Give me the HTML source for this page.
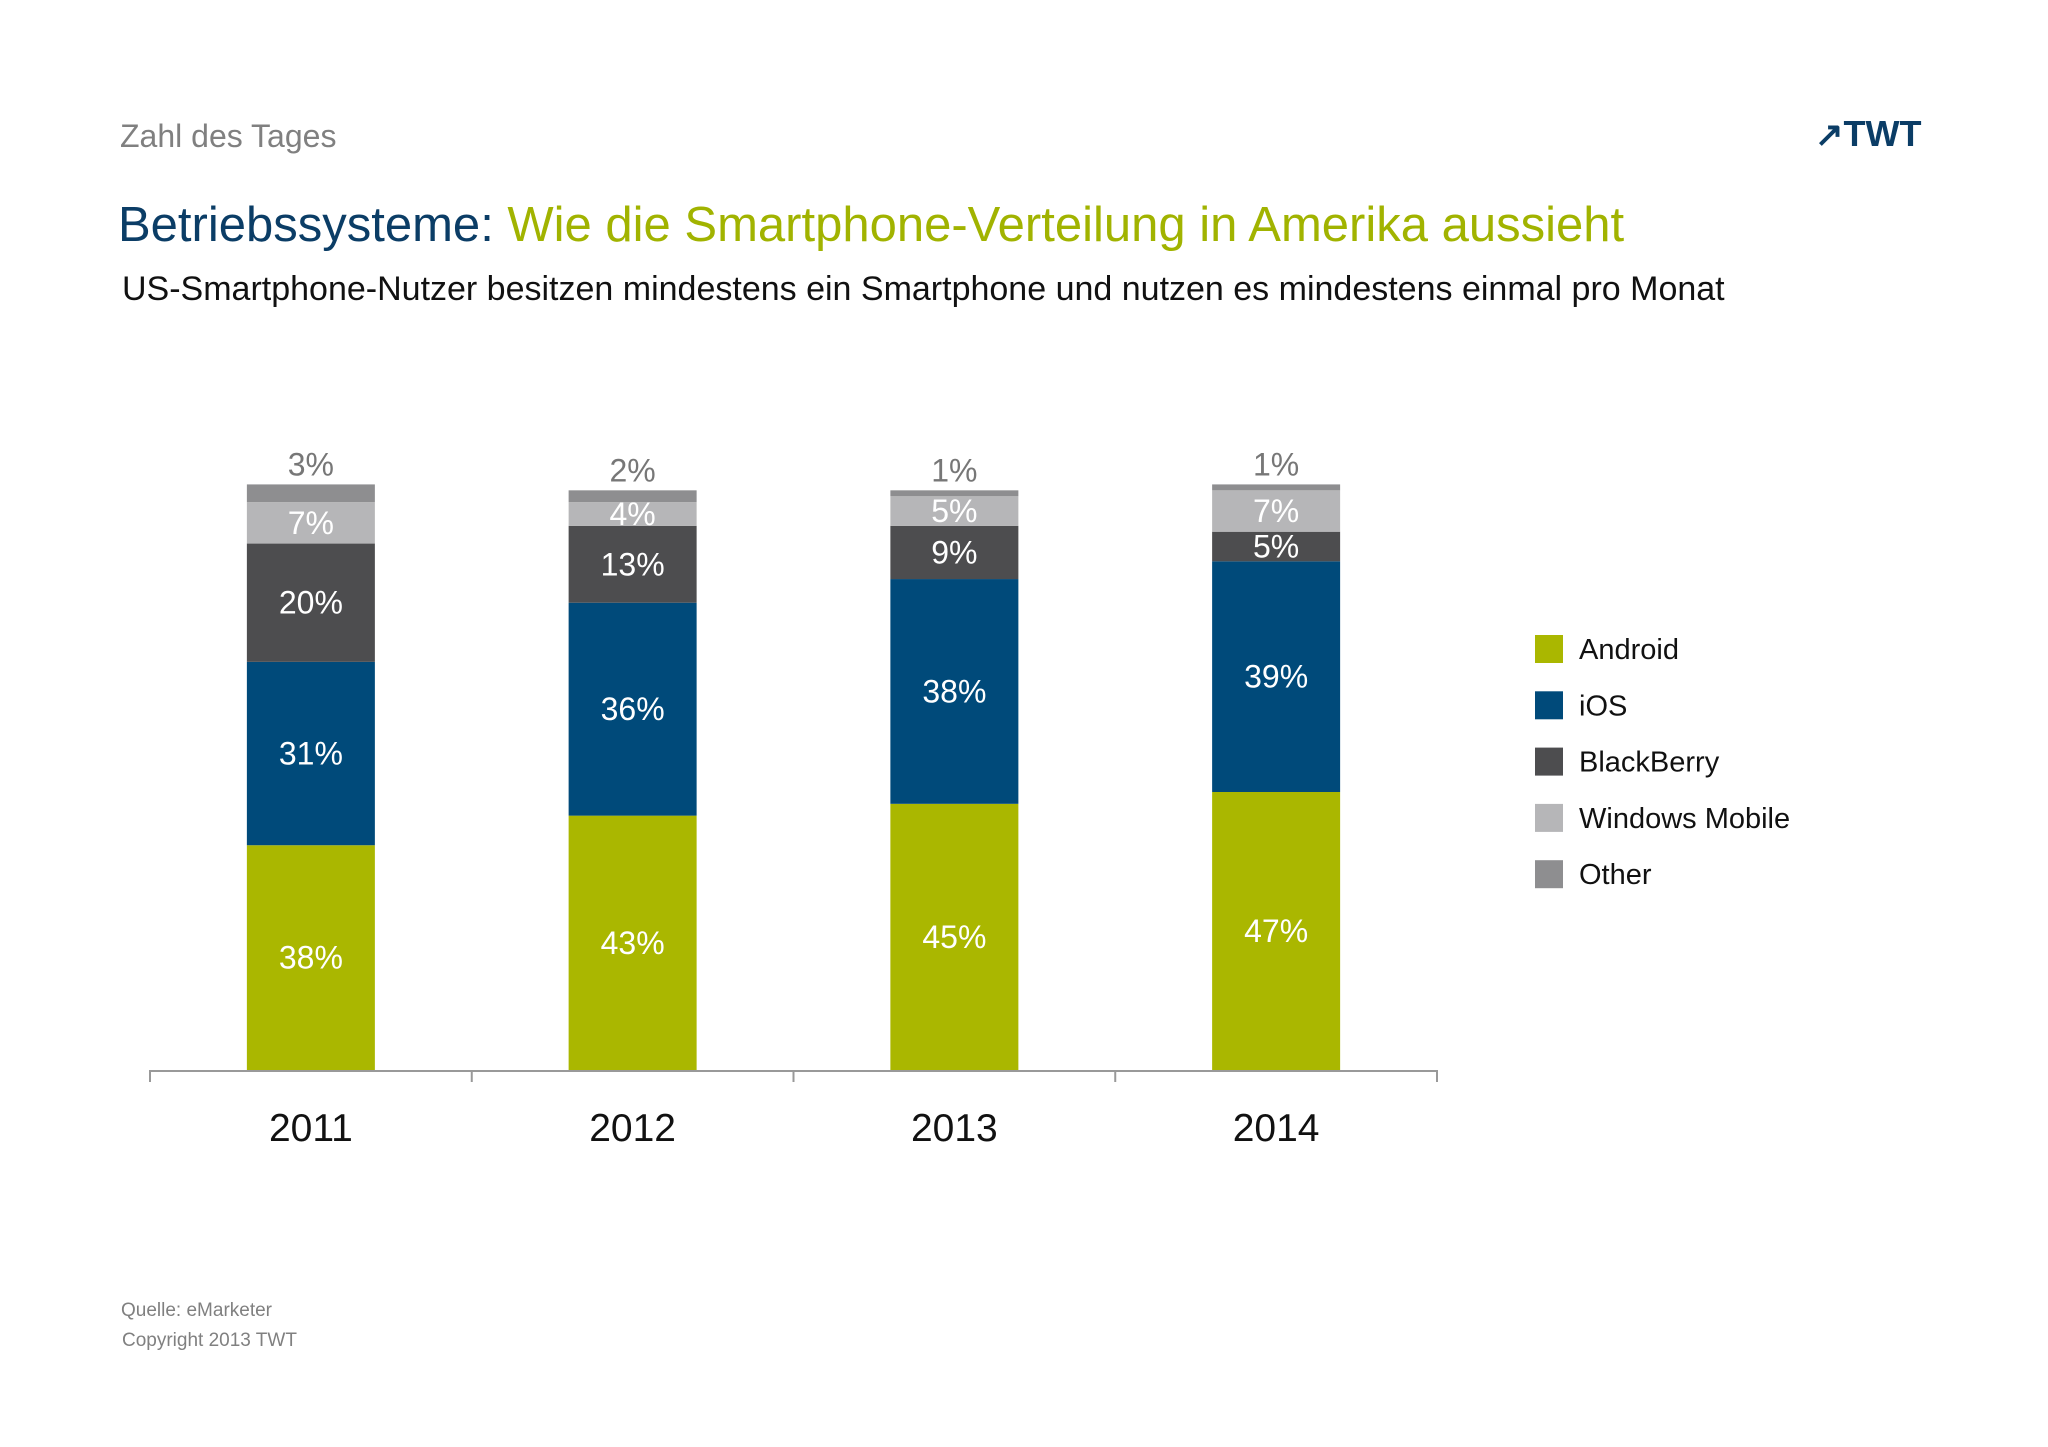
<!DOCTYPE html>
<html><head><meta charset="utf-8"><style>
body{margin:0;background:#fff;font-family:"Liberation Sans",sans-serif;}
#wrap{position:relative;width:2048px;height:1447px;overflow:hidden;background:#fff}
.t{position:absolute;white-space:nowrap}
</style></head><body>
<div id="wrap">
<div class="t" style="left:120px;top:118px;font-size:32px;color:#808080">Zahl des Tages</div>
<div class="t" style="left:1815px;top:113px;font-size:36px;font-weight:bold;color:#0b3d66"><span style="font-size:34px">&#x2197;</span>TWT</div>
<div class="t" style="left:118px;top:197px;font-size:49px;color:#0b3d66">Betriebssysteme: <span style="color:#a1b300">Wie die Smartphone-Verteilung in Amerika aussieht</span></div>
<div class="t" style="left:122px;top:270px;font-size:34px;color:#111">US-Smartphone-Nutzer besitzen mindestens ein Smartphone und nutzen es mindestens einmal pro Monat</div>
<svg id="chart" width="2048" height="1447" style="position:absolute;left:0;top:0" font-family="Liberation Sans, sans-serif"></svg>
<div class="t" style="left:121px;top:1300px;font-size:19px;color:#808080">Quelle: eMarketer</div>
<div class="t" style="left:122px;top:1330px;font-size:19px;color:#808080">Copyright 2013 TWT</div>
</div>
<script>
const years=["2011","2012","2013","2014"];
const seriesNames=["Android","iOS","BlackBerry","Windows Mobile","Other"];
const android=[38,43,45,47];
const ios=[31,36,38,39];
const blackberry=[20,13,9,5];
const windowsMobile=[7,4,5,7];
const other=[3,2,1,1];
const colors=["#aab700","#004a7a","#4d4d4f","#b6b6b8","#8e8e90"];
const series=[android,ios,blackberry,windowsMobile,other];
const NS="http://www.w3.org/2000/svg";
const svg=document.getElementById("chart");
const baseY=1070, pxPer=5.915, x0=150, x1=1437, barW=128;
const band=(x1-x0)/years.length;
const xc=i=>x0+band*(i+0.5);
const y=v=>baseY-v*pxPer;
function mk(tag,a){const e=document.createElementNS(NS,tag);for(const k in a)e.setAttribute(k,a[k]);svg.appendChild(e);return e;}
years.forEach((yr,i)=>{
  let cum=0;
  series.forEach((s,j)=>{
    const v=s[i];
    const r=mk("rect",{x:xc(i)-barW/2,y:y(cum+v),width:barW,height:v*pxPer,fill:colors[j]});
    
    
    let ly, col="#fff";
    if(j===4){ly=y(cum+v)-9;col="#777";}
    else ly=y(cum+v/2)+11;
    const t=mk("text",{x:xc(i),y:ly,"text-anchor":"middle","font-size":32,fill:col});
    t.textContent=v+"%";
    
    
    cum+=v;
  });
  const yl=mk("text",{x:xc(i),y:1141,"text-anchor":"middle","font-size":39,fill:"#111"});
  yl.textContent=yr;
  
  
});
const ax=mk("line",{x1:x0,x2:x1,y1:baseY+1,y2:baseY+1,stroke:"#999","stroke-width":2});


for(let k=0;k<=years.length;k++){
  const tk=mk("line",{x1:x0+band*k,x2:x0+band*k,y1:baseY,y2:baseY+12,stroke:"#999","stroke-width":2});
  
  
}
seriesNames.forEach((n,j)=>{
  const yy=649+j*56.3;
  const sq=mk("rect",{x:1535,y:yy-14,width:28,height:28,fill:colors[j]});
  
  
  const t=mk("text",{x:1579,y:yy+10,"font-size":29,fill:"#111"});
  t.textContent=n;
  
  
});
</script>
</body></html>
